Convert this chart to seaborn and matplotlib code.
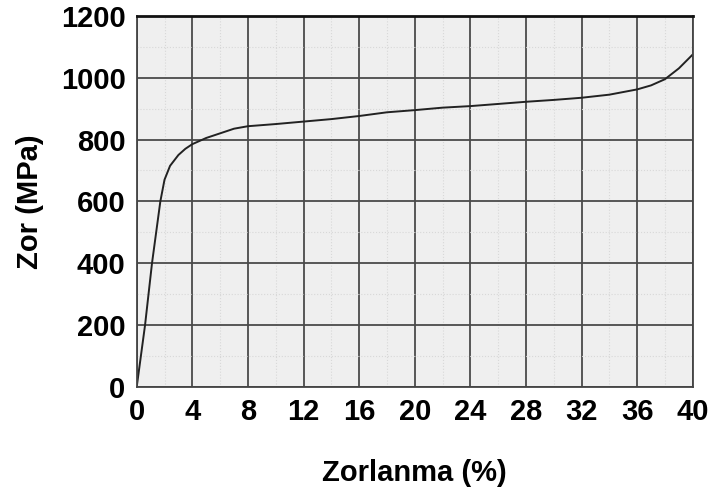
import numpy as np
import pandas as pd
import matplotlib.pyplot as plt
import seaborn as sns

# stress-strain curve
strain = [0, 0.3, 0.6, 0.9, 1.1, 1.4, 1.7, 2.0, 2.4, 3.0, 3.5, 4.0, 5, 6, 7, 8,
          10, 12, 14, 16, 18, 20, 22, 24, 26, 28, 30, 32, 34, 36, 37, 38, 39, 40]
stress = [0, 100, 200, 320, 400, 500, 600, 670, 715, 750, 770, 785, 805, 820, 835, 843,
          850, 858, 866, 876, 888, 895, 903, 908, 915, 922, 928, 935, 945, 962, 975, 995, 1030, 1075]
x_ticks = [0, 4, 8, 12, 16, 20, 24, 28, 32, 36, 40]
y_ticks = [0, 200, 400, 600, 800, 1000, 1200]

df = pd.DataFrame({'Zorlanma': strain, 'Zor': stress})

sns.set_style("white")
plt.rcParams['font.family'] = ['Liberation Sans', 'DejaVu Sans']

fig = plt.figure(figsize=(7.12, 4.93), dpi=100)
ax = fig.add_axes([0.192, 0.215, 0.781, 0.753])
ax.set_facecolor('#efefef')

sns.lineplot(data=df, x='Zorlanma', y='Zor', ax=ax, color='#222222', linewidth=1.4)

ax.set_xlim(0, 40)
ax.set_ylim(0, 1200)
ax.set_xticks(x_ticks)
ax.set_yticks(y_ticks)
ax.set_xticklabels([str(t) for t in x_ticks], fontsize=21, fontweight='bold', color='black')
ax.set_yticklabels([str(t) for t in y_ticks], fontsize=21, fontweight='bold', color='black')
ax.grid(True, color='#4a4a4a', linewidth=1.3)
ax.set_xticks(np.arange(0, 41, 2), minor=True)
ax.set_yticks(np.arange(0, 1201, 100), minor=True)
ax.grid(True, which='minor', color='#d8d8d8', linestyle=':', linewidth=0.8)
ax.set_axisbelow(True)
ax.tick_params(axis='both', which='major', length=7, color='#555555', width=1.3, pad=1)
ax.tick_params(axis='both', which='minor', length=0)
for s in ax.spines.values():
    s.set_color('#444444')
    s.set_linewidth(1.3)
ax.spines['top'].set_color('#111111')
ax.spines['top'].set_linewidth(2)

ax.set_xlabel('Zorlanma (%)', fontsize=21, fontweight='bold', labelpad=24, color='black')
ax.set_ylabel('Zor (MPa)', fontsize=21, fontweight='bold', labelpad=12, color='black')

fig.savefig('out.png', dpi=100)
